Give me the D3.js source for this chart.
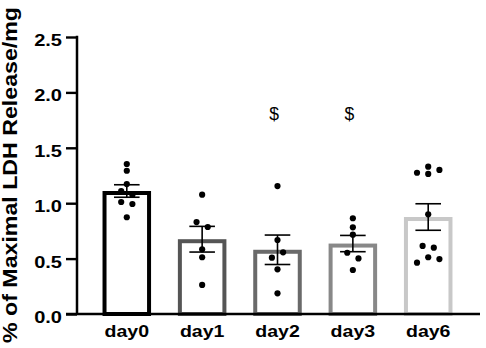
<!DOCTYPE html>
<html>
<head>
<meta charset="utf-8">
<script src="https://cdn.jsdelivr.net/npm/d3@7/dist/d3.min.js"></script>
<style>
  html, body { margin: 0; padding: 0; background: #fff; }
  svg { display: block; }
  text { font-family: "Liberation Sans", Arial, sans-serif; }
</style>
</head>
<body>
<svg id="chart" width="486" height="348"></svg>
<script>
// ---- data ----
const categories = ["day0", "day1", "day2", "day3", "day6"];
const barColors = ["#000000", "#555555", "#6a6a6a", "#888888", "#c8c8c8"];
const day0 = [1.354, 1.293, 1.173, 1.110, 1.074, 1.011, 0.993, 0.873];
const day1 = [1.077, 0.830, 0.785, 0.584, 0.512, 0.262];
const day2 = [1.155, 0.668, 0.557, 0.508, 0.403, 0.187];
const day3 = [0.864, 0.782, 0.716, 0.553, 0.502, 0.397];
const day6 = [1.275, 1.330, 1.264, 1.300, 0.900, 0.614, 0.599, 0.512, 0.463, 0.496];
// horizontal jitter column of each point (in dot-column units)
const jitter0 = [0, 0, 0, -1, 1, -1, 1, 0];
const jitter1 = [0, -1, 1, 0, 0, 0];
const jitter2 = [0, 0, 1, -1, 0, 0];
const jitter3 = [0, 0, 0, -1, 1, 0];
const jitter6 = [-2, 0, 0, 2, 0, -1, 1, 0, -2, 2];
const yTicks = [0.0, 0.5, 1.0, 1.5, 2.0, 2.5];
const annotations = [{ cat: "day2", label: "$" }, { cat: "day3", label: "$" }];
const yTitle = "% of Maximal LDH Release/mg";

const groups = [day0, day1, day2, day3, day6];
const jitters = [jitter0, jitter1, jitter2, jitter3, jitter6];

const table = categories.map((c, i) => {
  const v = groups[i];
  const m = d3.mean(v);
  const sem = d3.deviation(v) / Math.sqrt(v.length);
  return { cat: c, color: barColors[i], mean: m, sem: sem,
           pts: v.map((val, k) => ({ val, j: jitters[i][k] })) };
});

// ---- layout ----
const svg = d3.select("#chart");
const axisX = 77, axisTop = 37, axisBottom = 314, axisRight = 480;
const y = d3.scaleLinear().domain([0, 2.5]).range([axisBottom, axisTop]);
const x = d3.scaleBand().domain(categories).range([76, 479])
  .paddingInner(0.356).paddingOuter(0.352);
const bw = x.bandwidth();
const sw = 4;
const jitterUnit = 5.6;

// bars (outer edge at mean)
svg.append("g").selectAll("rect").data(table).join("rect")
  .attr("x", d => x(d.cat) + sw / 2)
  .attr("y", d => y(d.mean) + sw / 2)
  .attr("width", bw - sw)
  .attr("height", d => y(0) - y(d.mean) - sw / 2)
  .attr("fill", "#fff")
  .attr("stroke", d => d.color)
  .attr("stroke-width", sw);

// points
const pg = svg.append("g");
table.forEach(d => {
  const cx = x(d.cat) + bw / 2;
  pg.selectAll(null).data(d.pts).join("circle")
    .attr("cx", p => cx + p.j * jitterUnit)
    .attr("cy", p => y(p.val))
    .attr("r", 3.1)
    .attr("fill", "#000");
});

// error bars
const eg = svg.append("g").attr("stroke", "#000").attr("stroke-width", 1.6);
table.forEach(d => {
  const cx = x(d.cat) + bw / 2;
  const capHalf = 12.8;
  eg.append("line").attr("x1", cx).attr("x2", cx)
    .attr("y1", y(d.mean + d.sem)).attr("y2", y(d.mean - d.sem));
  [d.mean + d.sem, d.mean - d.sem].forEach(v => {
    eg.append("line").attr("x1", cx - capHalf).attr("x2", cx + capHalf)
      .attr("y1", y(v)).attr("y2", y(v));
  });
});

// y axis
const yAxis = d3.axisLeft(y).tickValues(yTicks).tickFormat(d3.format(".1f"))
  .tickSize(11).tickPadding(4);
const ga = svg.append("g").attr("transform", `translate(${axisX},0)`).call(yAxis);
ga.select(".domain").remove();
ga.selectAll(".tick line").attr("stroke", "#000").attr("stroke-width", 2.4);
ga.selectAll(".tick text")
  .attr("font-size", 16.3).attr("font-weight", "bold").attr("fill", "#000")
  .attr("font-family", "Liberation Sans, Arial, sans-serif")
  .attr("dy", null).attr("y", 8.5)
  .each(function () {
    const L = this.getComputedTextLength();
    d3.select(this).attr("textLength", L * 1.23).attr("lengthAdjust", "spacingAndGlyphs");
  });
svg.append("line").attr("x1", axisX).attr("x2", axisX)
  .attr("y1", axisTop - 1.2).attr("y2", axisBottom)
  .attr("stroke", "#000").attr("stroke-width", 2.5);

// x axis
svg.append("line").attr("x1", axisX - 11).attr("x2", axisRight)
  .attr("y1", axisBottom).attr("y2", axisBottom)
  .attr("stroke", "#000").attr("stroke-width", 2.5);
const xAxis = d3.axisBottom(x).tickSize(0).tickPadding(0);
const gx = svg.append("g").attr("transform", `translate(0,${axisBottom})`).call(xAxis);
gx.select(".domain").remove();
gx.selectAll(".tick text")
  .attr("font-size", 16).attr("font-weight", "bold").attr("fill", "#000")
  .attr("font-family", "Liberation Sans, Arial, sans-serif")
  .attr("dy", null).attr("y", 23)
  .each(function () {
    const L = this.getComputedTextLength();
    d3.select(this).attr("textLength", L * 1.22).attr("lengthAdjust", "spacingAndGlyphs");
  });

// annotations
svg.append("g").selectAll("text").data(annotations).join("text")
  .attr("x", d => x(d.cat) + bw / 2 - 3.5)
  .attr("y", y(1.8) + 5)
  .attr("text-anchor", "middle")
  .attr("font-size", 17.5)
  .attr("fill", "#000")
  .text(d => d.label);

// y title
svg.append("text")
  .attr("transform", "translate(17,175) rotate(-90)")
  .attr("text-anchor", "middle")
  .attr("font-size", 20)
  .attr("font-weight", "bold")
  .attr("fill", "#000")
  .attr("textLength", 336)
  .attr("lengthAdjust", "spacingAndGlyphs")
  .text(yTitle);
</script>
</body>
</html>
